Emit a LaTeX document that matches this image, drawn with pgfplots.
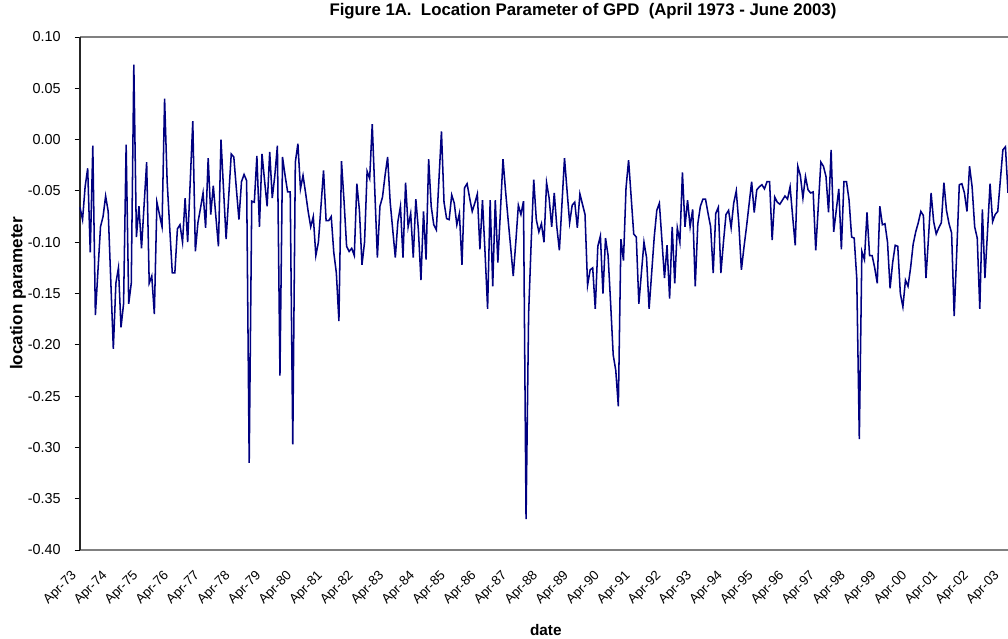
\documentclass[border=0pt]{standalone}
\usepackage{fontspec}
\setmainfont{Liberation Sans}
\usepackage{pgfplots}
\usepackage{pgfplotstable}
\pgfplotsset{compat=1.18}
\usetikzlibrary{calc}
\definecolor{navyline}{RGB}{0,0,128}
\definecolor{axgray}{RGB}{128,128,128}

\pgfplotstableread{
v
-0.066
-0.078
-0.046
-0.028
-0.110
-0.006
-0.171
-0.128
-0.085
-0.075
-0.055
-0.070
-0.137
-0.204
-0.140
-0.125
-0.183
-0.160
-0.005
-0.160
-0.140
0.073
-0.095
-0.065
-0.106
-0.064
-0.022
-0.140
-0.133
-0.170
-0.061
-0.073
-0.085
0.040
-0.041
-0.086
-0.130
-0.130
-0.087
-0.083
-0.100
-0.057
-0.100
-0.041
0.018
-0.109
-0.081
-0.067
-0.052
-0.086
-0.018
-0.073
-0.045
-0.075
-0.104
0.000
-0.049
-0.097
-0.056
-0.014
-0.017
-0.048
-0.078
-0.041
-0.034
-0.040
-0.315
-0.060
-0.061
-0.016
-0.085
-0.014
-0.040
-0.065
-0.012
-0.057
-0.035
-0.006
-0.230
-0.017
-0.035
-0.051
-0.051
-0.297
-0.022
-0.004
-0.048
-0.035
-0.052
-0.070
-0.085
-0.075
-0.113
-0.100
-0.065
-0.030
-0.079
-0.079
-0.075
-0.110
-0.130
-0.177
-0.021
-0.060
-0.104
-0.109
-0.106
-0.113
-0.043
-0.069
-0.122
-0.100
-0.031
-0.038
0.015
-0.050
-0.115
-0.065
-0.056
-0.035
-0.017
-0.061
-0.088
-0.115
-0.080
-0.065
-0.115
-0.042
-0.085
-0.072
-0.115
-0.058
-0.088
-0.137
-0.070
-0.117
-0.019
-0.065
-0.083
-0.088
-0.040
0.008
-0.061
-0.077
-0.078
-0.054
-0.062
-0.083
-0.072
-0.122
-0.047
-0.043
-0.057
-0.070
-0.062
-0.053
-0.107
-0.059
-0.110
-0.165
-0.059
-0.143
-0.059
-0.120
-0.070
-0.019
-0.050
-0.078
-0.105
-0.133
-0.100
-0.064
-0.073
-0.060
-0.370
-0.170
-0.100
-0.039
-0.078
-0.090
-0.082
-0.100
-0.042
-0.057
-0.085
-0.052
-0.085
-0.108
-0.063
-0.018
-0.050
-0.081
-0.064
-0.061
-0.086
-0.053
-0.063
-0.073
-0.142
-0.127
-0.125
-0.165
-0.104
-0.094
-0.150
-0.096
-0.113
-0.160
-0.210
-0.225
-0.260
-0.097
-0.118
-0.047
-0.020
-0.056
-0.092
-0.095
-0.160
-0.130
-0.100
-0.115
-0.165
-0.130
-0.095
-0.069
-0.062
-0.098
-0.135
-0.103
-0.155
-0.085
-0.140
-0.086
-0.100
-0.032
-0.085
-0.059
-0.085
-0.068
-0.143
-0.082
-0.065
-0.058
-0.058
-0.072
-0.085
-0.130
-0.072
-0.066
-0.130
-0.100
-0.073
-0.069
-0.086
-0.062
-0.050
-0.082
-0.127
-0.105
-0.085
-0.063
-0.041
-0.071
-0.049
-0.046
-0.044
-0.048
-0.041
-0.041
-0.098
-0.056
-0.061
-0.063
-0.059
-0.055
-0.058
-0.046
-0.075
-0.103
-0.026
-0.035
-0.057
-0.036
-0.049
-0.052
-0.051
-0.108
-0.065
-0.022
-0.026
-0.036
-0.071
-0.010
-0.090
-0.069
-0.048
-0.107
-0.041
-0.041
-0.059
-0.095
-0.096
-0.135
-0.292
-0.109
-0.117
-0.071
-0.113
-0.113
-0.125
-0.140
-0.065
-0.083
-0.082
-0.100
-0.145
-0.120
-0.103
-0.104
-0.150
-0.163
-0.137
-0.143
-0.125
-0.102
-0.090
-0.081
-0.070
-0.074
-0.135
-0.095
-0.052
-0.080
-0.092
-0.086
-0.081
-0.042
-0.069
-0.082
-0.091
-0.172
-0.110
-0.044
-0.043
-0.052
-0.070
-0.026
-0.046
-0.085
-0.096
-0.165
-0.068
-0.135
-0.090
-0.043
-0.080
-0.073
-0.070
-0.040
-0.010
-0.007
-0.052
}\gpddata

\begin{document}
\begin{tikzpicture}
\begin{axis}[
  scale only axis,
  width=696pt, height=384.75pt,
  xmin=0, xmax=362,
  ymin=-0.40, ymax=0.10,
  axis line style={draw=none},
  tick align=outside,
  xtick={0,12,...,360},
  xticklabels={Apr-73,Apr-74,Apr-75,Apr-76,Apr-77,Apr-78,Apr-79,Apr-80,Apr-81,Apr-82,Apr-83,Apr-84,Apr-85,Apr-86,Apr-87,Apr-88,Apr-89,Apr-90,Apr-91,Apr-92,Apr-93,Apr-94,Apr-95,Apr-96,Apr-97,Apr-98,Apr-99,Apr-00,Apr-01,Apr-02,Apr-03},
  major x tick style={draw=none},
  xticklabel style={font=\fontsize{10}{12}\selectfont, xshift=-4pt, yshift=-14pt, rotate=45, anchor=east, inner sep=0pt},
  ytick={-0.40,-0.35,-0.30,-0.25,-0.20,-0.15,-0.10,-0.05,0.00,0.05,0.10},
  yticklabels={-0.40,-0.35,-0.30,-0.25,-0.20,-0.15,-0.10,-0.05,0.00,0.05,0.10},
  yticklabel style={font=\fontsize{10.8}{12}\selectfont, xshift=-7pt},
  ytick pos=left,
  xtick pos=bottom,
  major tick length=4pt,
  major y tick style={black, line width=0.6pt},
  every axis y label/.style={at={(axis description cs:-0.0668,0.5)}, rotate=90, anchor=center},
  every axis x label/.style={at={(axis description cs:0.502,-0.156)}, anchor=center},
  ylabel={\fontsize{12.8}{14}\selectfont\bfseries location parameter},
  xlabel={\fontsize{11.5}{13}\selectfont\bfseries date},
  title style={at={(axis description cs:0.542,1.035)}, anchor=center},
  title={\fontsize{12.6}{14}\selectfont\bfseries Figure 1A.\ \ Location Parameter of GPD\ \ (April 1973 - June 2003)},
  clip=false,
]
\coordinate (sw) at (rel axis cs:0,0);
\coordinate (ne) at (rel axis cs:1,1);
\draw[axgray, line width=0.8pt] (rel axis cs:0,1) -- (rel axis cs:1,1);
\draw[axgray, line width=0.8pt] (rel axis cs:0,0) -- (rel axis cs:1,0);
\draw[black!85, line width=0.9pt] (rel axis cs:0,0) -- (rel axis cs:0,1);
\addplot[navyline, line width=1.15pt, mark=none] table[x expr=\coordindex, y=v] {\gpddata};
\end{axis}
\pgfresetboundingbox
\useasboundingbox ($(sw)+(-60pt,-66.75pt)$) rectangle ($(ne)+(0pt,27.75pt)$);
\end{tikzpicture}
\end{document}
